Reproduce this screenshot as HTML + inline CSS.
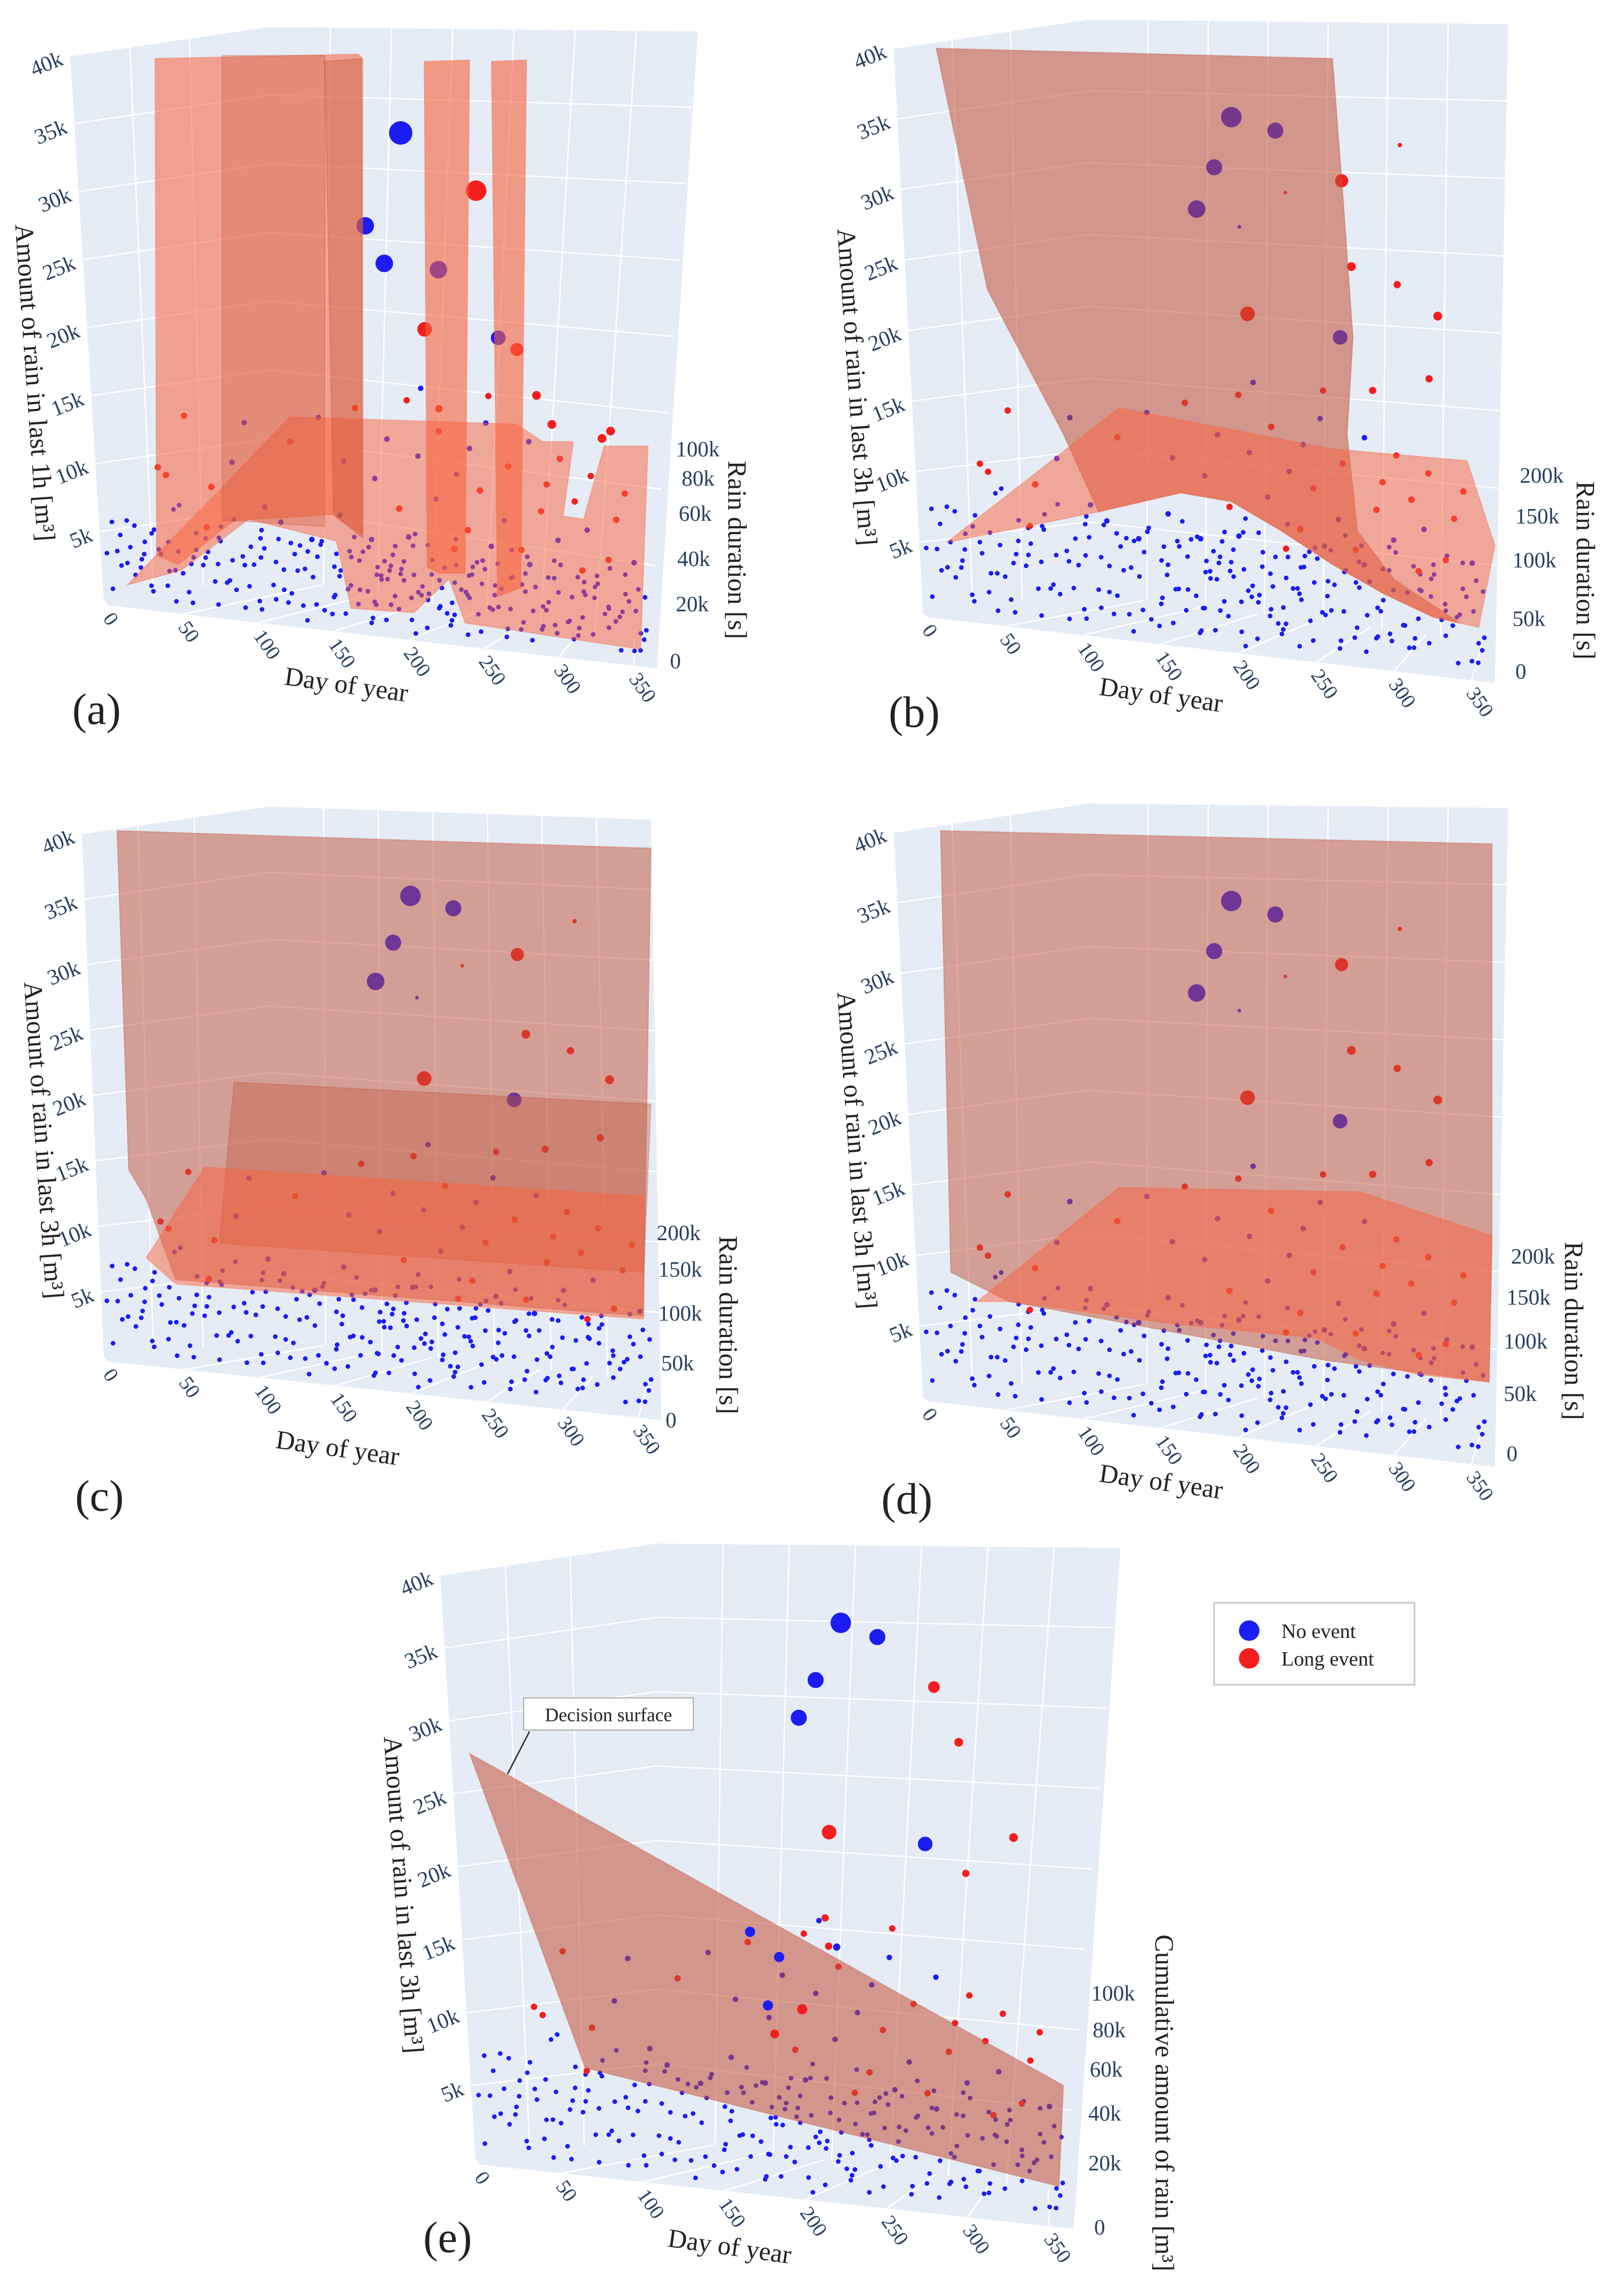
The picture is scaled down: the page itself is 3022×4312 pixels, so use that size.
<!DOCTYPE html>
<html><head><meta charset="utf-8"><style>
html,body{margin:0;padding:0;background:#fff;}
svg{display:block;}
text{font-family:"Liberation Serif",serif;}
</style></head><body>
<svg id="fig" xmlns="http://www.w3.org/2000/svg" width="3022" height="4312" viewBox="0 0 1100 1570" preserveAspectRatio="none"></svg>
<script>
// ---------- data ----------
const dayTicks = [0,50,100,150,200,250,300,350];
const amtTicks = [5,10,15,20,25,30,35,40];
const amtTickLabels = ["5k","10k","15k","20k","25k","30k","35k","40k"];
const durLabelsA = ["0","20k","40k","60k","80k","100k"];
const durLabelsBCD = ["0","50k","100k","150k","200k"];
const durLabelsE = ["0","20k","40k","60k","80k","100k"];

const floorDay = [4,9,12,15,18,22,25,28,31,35,38,41,44,47,50,53,57,60,63,66,70,73,76,79,83,86,89,92,96,99,102,105,108,112,115,118,121,124,128,131,134,137,140,143,147,150,153,156,159,162,165,168,171,174,177,180,183,186,189,192,195,198,201,204,207,210,213,216,219,222,225,228,231,234,237,240,243,246,249,252,255,258,261,264,267,270,273,276,279,282,285,288,291,294,297,300,303,306,309,312,315,318,321,324,327,330,333,336,339,342,345,348,351,354,357,360,7,20,33,46,58,69,81,94,107,119,132,145,157,166,175,185,194,203,211,220,229,238,247,256,265,274,283,292,301,311,320,330,340,350,358,170,178,190,200,208,215,224,232,242,250,
 2,11,17,24,30,37,43,49,55,62,68,74,80,87,93,100,106,113,120,126,133,139,146,152,158,164,169,176,182,188,193,199,205,212,218,223,230,236,241,248,254,260,266,272,278,284,290,296,302,308,314,321,328,335,343,349,356,361,27,52,78,103,129,154,179,196,209,227,244,262,281,299,317,336,355,185,191,197,213,221,233,239,251];
const floorDur = [12,45,78,23,56,89,34,67,5,90,41,18,73,29,62,95,8,51,84,37,70,15,48,81,26,59,92,3,36,69,14,47,80,25,58,91,2,35,68,13,46,79,24,57,88,1,34,66,11,44,77,22,55,86,0,33,64,9,42,75,20,53,85,30,63,96,7,40,72,17,50,83,28,61,94,6,39,71,16,49,82,27,60,93,4,38,70,19,52,87,31,65,10,43,76,21,54,89,32,63,11,44,74,18,51,80,26,58,90,5,37,67,14,46,79,22,84,31,62,9,43,76,20,55,88,35,66,12,47,80,27,58,91,3,39,70,16,49,83,29,60,95,8,42,73,18,52,86,33,64,11,45,78,24,57,90,36,68,13,50,81,
 57,21,86,40,8,65,32,94,15,71,49,3,82,27,60,38,91,12,55,74,6,44,87,19,63,30,97,10,52,78,25,68,2,46,85,35,14,72,58,23,90,41,7,66,29,83,17,54,93,37,4,61,76,20,48,88,13,69,56,28,80,11,43,65,22,92,50,9,74,34,60,16,85,39,6,47,71,26,98,18,62,33];
const floorAmt = [0.5,1.2,0.3,1.8,0.9,0.4,1.5,0.7,1.1,0.2,1.6,0.8,0.5,1.3,0.6,1.9,0.4,1.0,0.7,1.4,0.3,1.7,0.9,0.5,1.2,0.6,1.5,0.8,0.3,1.1,0.7,1.8,0.4,1.3,0.9,0.5,1.6,0.2,1.0,0.8,1.4,0.6,0.3,1.7,0.9,1.2,0.5,1.5,0.7,0.4,1.1,0.8,1.9,0.6,1.3,0.2,1.0,0.7,1.6,0.5,0.9,1.4,0.3,1.2,0.8,1.7,0.6,1.0,0.4,1.5,0.9,0.3,1.3,0.7,1.8,0.5,1.1,0.8,0.2,1.6,0.6,1.2,0.9,0.4,1.4,0.7,1.0,0.5,1.7,0.3,1.2,0.8,1.5,0.6,0.9,0.4,1.3,1.1,0.7,0.5,1.6,0.3,1.0,0.8,1.4,0.6,1.9,0.4,1.2,0.7,1.5,0.9,0.2,1.1,0.6,1.3,0.8,0.5,1.7,0.3,1.0,0.9,1.4,0.6,1.2,0.4,1.8,0.7,1.1,0.5,1.5,0.8,0.3,1.3,0.9,1.6,0.4,1.0,0.6,1.2,0.7,1.4,0.5,0.9,1.1,0.3,1.7,0.8,1.0,0.6,1.3,0.4,1.5,0.9,0.7,1.2,
 0.8,0.3,1.4,0.6,1.1,0.2,1.7,0.9,0.5,1.3,0.4,1.0,1.6,0.7,0.3,1.2,0.8,1.5,0.5,0.9,1.8,0.4,1.1,0.6,1.4,0.2,1.0,0.7,1.3,0.5,1.6,0.9,0.3,1.2,0.6,1.5,0.8,0.4,1.1,1.7,0.5,0.9,1.3,0.3,1.0,0.7,1.4,0.6,1.2,0.4,1.8,0.8,0.5,1.1,0.3,1.5,0.9,0.6,1.3,0.4,1.0,1.6,0.7,0.5,1.2,0.8,0.3,1.4,0.6,1.1,0.9,0.4,1.7,0.5,1.0,0.7,1.3,0.6,1.5,0.8,1.2,0.4];

const midDay = [60,40,45,75,90,110,130,150,165,175,185,195,200,210,215,225,230,240,245,250,255,262,270,275,280,290,295,300,305,310,318,325,330,338,345,352,120,140,160,205,235,260,285,320,355,100,70,180,220,265];
const midAmt = [12,8,7.5,7,9,6,11,13,10,14,9,12,7,15,11,8,13,10,6,12,9,14,7,11,5,13,8,10,6,12,9,7,11,5,8,10,5,4,6,5,4.5,5,4,4,5,12,4,4.5,16,16];
const midCol = ["r","r","r","r","b","b","r","b","b","r","b","b","r","r","b","b","r","b","r","b","r","b","b","r","r","b","r","r","b","r","r","b","r","r","r","r","b","b","b","b","r","b","b","r","b","b","r","b","b","r"];

const evDayA = [218,266,190,201,237,225,274,286,297,306,339,345,231];
const evAmtA = [37.1,33.5,30,27.4,27.4,22.9,22.9,22.2,19,17,16.4,17,17.2];
const evColA = ["b","r","b","b","b","r","b","r","r","r","r","r","r"];
const evSizeA = [8,7,6,6,6,5,5,4.5,3,3,3,3,2.5];
const evDayB = [216,244,203,190,285,219,278,288,317,342,334,297,324,248,217];
const evAmtB = [37.9,37.3,34.2,31.1,34.3,24.1,23.2,28.3,27.4,25.5,21,19.7,37.3,33,30.2];
const evColB = ["b","b","b","b","r","r","b","r","r","r","r","r","r","r","b"];
const evSizeB = [7,5.5,5.5,6,4.5,5,5,3,2.5,3,2.5,2.5,1.5,1.2,1.2];
const evDayE = [246,268,228,216,301,314,230,289,344,313,224,225,230,177,194,185,206,188];
const evAmtE = [39.7,39,35.6,32.9,36,32.4,25.3,25.2,26.3,23.5,19.4,17.5,17.5,17.9,16.4,13,13,11.1];
const evColE = ["b","b","b","b","r","r","r","b","r","r","r","r","b","b","b","b","r","r"];
const evSizeE = [7,5.5,5.5,5.5,4,3,5,5,3,2.5,2.5,2.5,2.5,3.5,3.5,3.5,3.5,3];

// ---------- geometry ----------
const G = {
 a:{O:[74,414],Lb:[-3,-4],Lt:[-26,-376],Bb:[110,-20],Bt:[110,-396],Rb:[370,25],Rt:[403,-393],BR:[375,43],Z:[-5,-60]},
 b:{O:[634,422],Lb:[-3,-3],Lt:[-23,-389],Bb:[110,-16],Bt:[110,-409],Rb:[391,18],Rt:[397,-406],BR:[388,45],Z:[-5,-80]},
 c:{O:[74,931],Lb:[-3,-3],Lt:[-18,-361],Bb:[110,-15],Bt:[110,-380],Rb:[380,15],Rt:[371,-371],BR:[378,40],Z:[-5,-70]},
 d:{O:[634,958],Lb:[-3,-3],Lt:[-23,-389],Bb:[110,-16],Bt:[110,-409],Rb:[391,18],Rt:[397,-406],BR:[388,45],Z:[-5,-80]},
 e:{O:[328,1480],Lb:[-3,-4],Lt:[-27,-403],Bb:[121,-18],Bt:[121,-425],Rb:[400,18],Rt:[438,-422],BR:[406,44],Z:[-5,-80]}
};
const svg = document.getElementById('fig');
const NS = 'http://www.w3.org/2000/svg';
function mk(tag, attrs, parent){const e=document.createElementNS(NS,tag);for(const k in attrs)e.setAttribute(k,attrs[k]);(parent||svg).appendChild(e);return e;}
function A(g,p){return [g.O[0]+p[0],g.O[1]+p[1]];}
function lerp(p,q,t){return [p[0]+(q[0]-p[0])*t,p[1]+(q[1]-p[1])*t];}
function proj(g,day,k,z){return [g.O[0]+g.BR[0]*day/365+g.Lt[0]*k/40+g.Z[0]*z, g.O[1]+g.BR[1]*day/365+g.Lt[1]*k/40+g.Z[1]*z];}
function pts(a){return a.map(p=>p[0].toFixed(1)+','+p[1].toFixed(1)).join(' ');}
const COL = {b:'rgb(28,28,245)', r:'rgb(245,30,30)'};

function drawPanel(key, durLabels, durPos){
  const g = G[key];
  const grp = mk('g',{});
  
  
  const cube = mk('polygon',{points:pts([A(g,g.Lt),A(g,g.Bt),A(g,g.Rt),A(g,g.BR),g.O,A(g,g.Lb)]),fill:'#e5ecf6'},grp);
  
  
  const gg = mk('g',{stroke:'#ffffff','stroke-width':1,fill:'none'},grp);
  
  
  amtTicks.forEach(k=>{const t=k/40;
    mk('polyline',{points:pts([lerp(A(g,g.Lb),A(g,g.Lt),t),lerp(A(g,g.Bb),A(g,g.Bt),t),lerp(A(g,g.Rb),A(g,g.Rt),t)])},gg);});
  for(let i=1;i<7;i++){const t=i/7;
    mk('line',{x1:lerp(A(g,g.Bb),A(g,g.Rb),t)[0],y1:lerp(A(g,g.Bb),A(g,g.Rb),t)[1],x2:lerp(A(g,g.Bt),A(g,g.Rt),t)[0],y2:lerp(A(g,g.Bt),A(g,g.Rt),t)[1]},gg);}
  [0.3,0.6].forEach(t=>{mk('line',{x1:lerp(A(g,g.Lb),A(g,g.Bb),t)[0],y1:lerp(A(g,g.Lb),A(g,g.Bb),t)[1],x2:lerp(A(g,g.Lt),A(g,g.Bt),t)[0],y2:lerp(A(g,g.Lt),A(g,g.Bt),t)[1]},gg);});
  dayTicks.forEach(d=>{if(!d)return;const f=proj(g,d,0,0),b=lerp(A(g,g.Bb),A(g,g.Rb),d/365);
    mk('line',{x1:f[0],y1:f[1],x2:b[0],y2:b[1]},gg);});
  amtTicks.forEach((k,i)=>{const p=lerp(A(g,g.Lb),A(g,g.Lt),k/40);
    const x=p[0]-4,y=p[1]+6;
    const t=mk('text',{x:x,y:y,'font-size':15,fill:'#2a3f5f','text-anchor':'end',transform:`rotate(-22 ${x} ${y})`},grp);
    t.textContent=amtTickLabels[i];
    
    });
  dayTicks.forEach(d=>{const p=proj(g,d,0,0);
    const x=p[0]-4,y=p[1]+9;
    const t=mk('text',{x:x,y:y,'font-size':14,fill:'#2a3f5f',transform:`rotate(55 ${x} ${y})`},grp);
    t.textContent=String(d);
    
    });
  durLabels.forEach((s,i)=>{const t=mk('text',{x:durPos[i][0],y:durPos[i][1],'font-size':15,fill:'#2a3f5f'},grp);
    t.textContent=s;
    
    });
  const n=Math.min(floorDay.length,floorDur.length,floorAmt.length);
  for(let i=0;i<n;i++){const p=proj(g,floorDay[i],floorAmt[i],floorDur[i]/100);
    const c=mk('circle',{cx:p[0].toFixed(1),cy:p[1].toFixed(1),r:1.6,fill:COL.b},grp);
    
    }
  for(let i=0;i<midDay.length;i++){const p=proj(g,midDay[i],midAmt[i],0.4);
    const c=mk('circle',{cx:p[0].toFixed(1),cy:p[1].toFixed(1),r:midCol[i]==='r'?2.2:1.9,fill:COL[midCol[i]]},grp);
    
    }
  return grp;
}
function events(key,days,amts,cols,sizes,grp){const g=G[key];
  for(let i=0;i<days.length;i++){const p=proj(g,days[i],amts[i],0);
    const c=mk('circle',{cx:p[0].toFixed(1),cy:p[1].toFixed(1),r:sizes[i],fill:COL[cols[i]]},grp);
    
    }}
function surf(grp,points,fill,op,name){const s=mk('polygon',{points:points,fill:fill,'fill-opacity':op,stroke:fill,'stroke-opacity':0.3,'stroke-width':0.8},grp);
  
  }
function label(txt,x,y,size,rot,name,anchor){const t=mk('text',{x:x,y:y,'font-size':size,fill:'#222','text-anchor':anchor||'middle',transform:rot?`rotate(${rot} ${x} ${y})`:''});
  t.textContent=txt;
  
  return t;}

const DARK='rgb(194,80,53)', LIGHT='rgb(249,98,62)';
let ga=drawPanel('a',durLabelsA,[[458,457],[462,418],[463,387],[464,356],[466,332],[462,312]]);
events('a',evDayA,evAmtA,evColA,evSizeA,ga);
surf(ga,'87,400 124,390 170,355 230,370 240,416 283,419 307,396 318,426 438,444 443,305 413,305 399,355 385,353 392,302 371,302 353,290 198,285 155,330',LIGHT,0.5,'decision-surface-base');
surf(ga,'106,40 245,37 248,40 248,366 228,352 160,356 122,386 107,380',LIGHT,0.55,'decision-surface-slab');
surf(ga,'152,38 222,38 222,360 160,356 152,356',DARK,0.25,'decision-surface-slab-back');
surf(ga,'222,42 247,40 248,368 228,352',DARK,0.35,'decision-surface-column');
surf(ga,'290,42 321,41 318,392 300,392 292,388',LIGHT,0.6,'decision-surface-column');
surf(ga,'336,42 360,41 356,402 340,408',LIGHT,0.6,'decision-surface-column');
let gb=drawPanel('b',durLabelsBCD,[[1036,464],[1034,428],[1034,388],[1036,358],[1039,330]]);
events('b',evDayB,evAmtB,evColB,evSizeB,gb);
surf(gb,'640,33 911,40 918,132 925,231 921,297 928,363 953,396 998,426 980,422 946,406 911,386 876,363 842,343 807,337 751,350 727,297 675,198',DARK,0.55,'decision-surface-wall');
surf(gb,'647,371 765,279 911,307 1003,315 1022,373 1011,429 980,422 946,406 911,386 876,363 842,343 807,337 751,350',LIGHT,0.5,'decision-surface-plane');
let gc=drawPanel('c',durLabelsBCD,[[455,976],[452,937],[450,903],[450,873],[449,848]]);
events('c',evDayB,evAmtB,evColB,evSizeB,gc);
surf(gc,'80,568 445,580 440,900 120,875 100,820 88,800',DARK,0.5,'decision-surface-wall');
surf(gc,'160,740 445,755 440,870 150,850',DARK,0.35,'decision-surface-box-upper');
surf(gc,'140,798 440,818 440,902 120,878 100,860',LIGHT,0.5,'decision-surface-box-lower');
let gd=drawPanel('d',durLabelsBCD,[[1030,999],[1028,958],[1028,922],[1030,892],[1033,864]]);
events('d',evDayB,evAmtB,evColB,evSizeB,gd);
surf(gd,'643,568 1020,577 1020,850 1018,945 905,930 690,890 650,870',DARK,0.5,'decision-surface-wall');
surf(gd,'668,890 765,812 930,815 1020,845 1018,945 970,940 930,930 900,915 800,905 690,890',LIGHT,0.5,'decision-surface-plane');
let ge=drawPanel('e',durLabelsE,[[748,1528],[744,1484],[744,1450],[745,1420],[747,1393],[746,1368]]);
surf(ge,'321,1199 400,1414 724,1495 727,1426',DARK,0.55,'decision-surface');
events('e',evDayE,evAmtE,evColE,evSizeE,ge);

const ann=mk('g',{});


mk('line',{x1:362,y1:1184,x2:347,y2:1213,stroke:'#333','stroke-width':1},ann);
mk('rect',{x:358,y:1161,width:116,height:22,fill:'#fff',stroke:'#999','stroke-width':0.6},ann);
const at=mk('text',{x:416,y:1177,'font-size':13,'text-anchor':'middle',fill:'#222'},ann);at.textContent='Decision surface';
const lg=mk('g',{});


mk('rect',{x:830,y:1096,width:137,height:56,fill:'#fff',stroke:'#ccc','stroke-width':1.2},lg);
const l1=mk('circle',{cx:854,cy:1115,r:7,fill:COL.b},lg);


const l2=mk('circle',{cx:854,cy:1134,r:7,fill:COL.r},lg);


const lt1=mk('text',{x:876,y:1120,'font-size':14,fill:'#222'},lg);lt1.textContent='No event';


const lt2=mk('text',{x:876,y:1139,'font-size':14,fill:'#222'},lg);lt2.textContent='Long event';



label('Amount of rain in last 1h [m³]',18,262,18,86,'y-axis-title');
label('Amount of rain in last 3h [m³]',580,265,18,86,'y-axis-title');
label('Amount of rain in last 3h [m³]',24,780,18,86,'y-axis-title');
label('Amount of rain in last 3h [m³]',580,787,18,86,'y-axis-title');
label('Amount of rain in last 3h [m³]',270,1296,18,86,'y-axis-title');
label('Rain duration [s]',498,376,18,90,'z-axis-title');
label('Rain duration [s]',1078,390,18,90,'z-axis-title');
label('Rain duration [s]',492,906,18,90,'z-axis-title');
label('Rain duration [s]',1070,910,18,90,'z-axis-title');
label('Cumulative amount of rain [m³]',790,1438,18,90,'z-axis-title');
label('Day of year',236,474,18,8,'x-axis-title');
label('Day of year',793,481,18,8,'x-axis-title');
label('Day of year',230,996,18,8,'x-axis-title');
label('Day of year',793,1019,18,8,'x-axis-title');
label('Day of year',498,1542,18,8,'x-axis-title');
label('(a)',66,495,30,0,'panel-label-a');
label('(b)',625,497,30,0,'panel-label-b');
label('(c)',68,1033,30,0,'panel-label-c');
label('(d)',620,1035,30,0,'panel-label-d');
label('(e)',306,1540,30,0,'panel-label-e');
</script>
</body></html>
